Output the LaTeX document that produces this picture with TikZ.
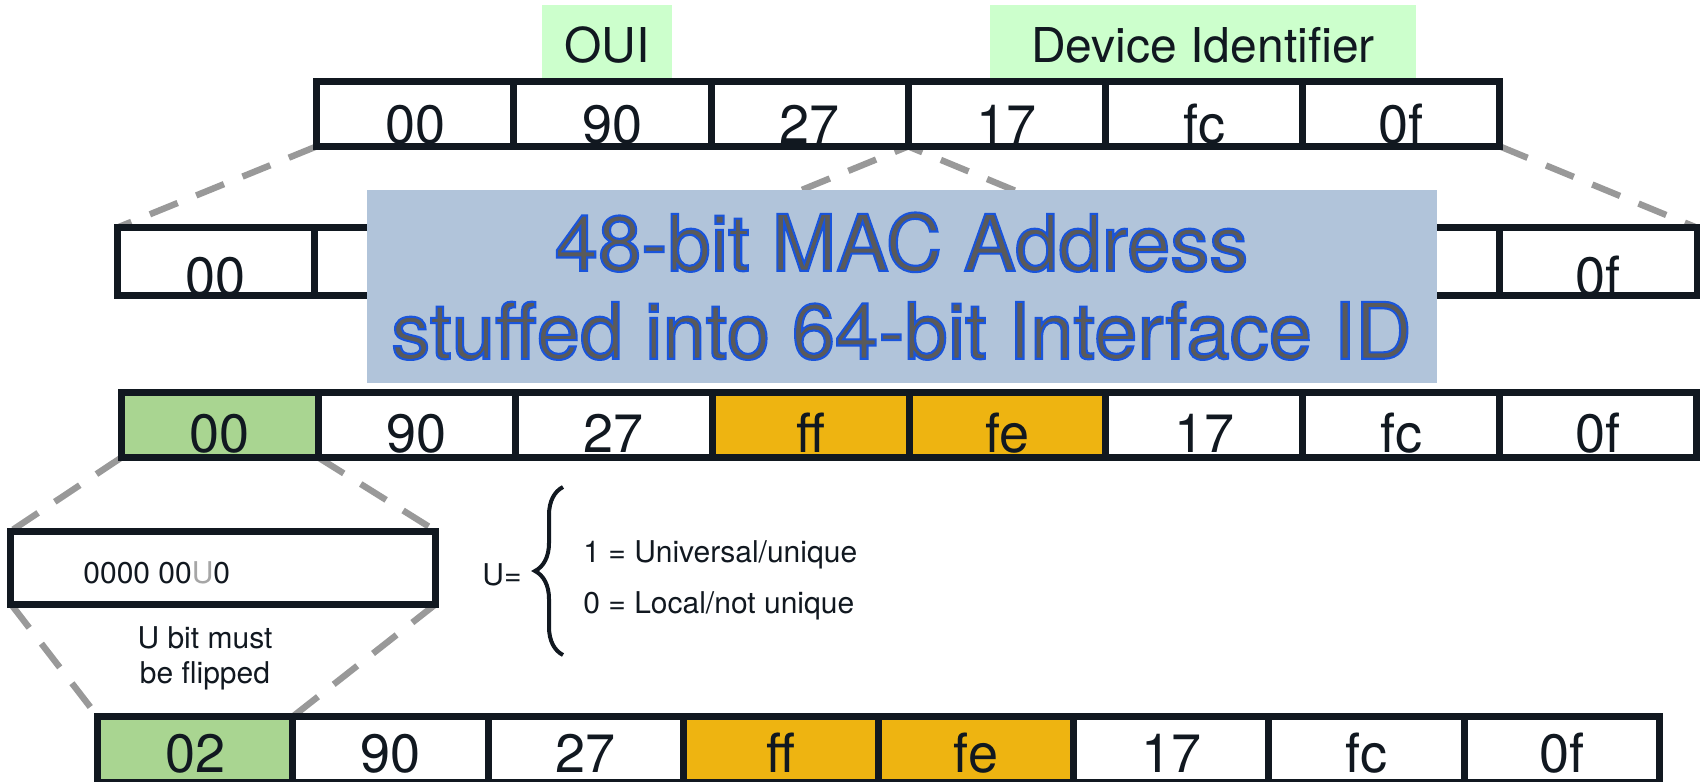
\documentclass[tikz,border=0pt]{standalone}
\usepackage{fontspec}
\setmainfont{TeX Gyre Heros}
\usetikzlibrary{decorations.pathreplacing,backgrounds}

\definecolor{inkblack}{RGB}{17,24,32}
\definecolor{dashgray}{RGB}{153,153,153}
\definecolor{ouigreen}{RGB}{204,255,204}
\definecolor{bitgreen}{RGB}{169,213,145}
\definecolor{fffeorange}{RGB}{238,180,17}
\definecolor{titleblue}{RGB}{177,196,218}
\definecolor{titleink}{RGB}{90,90,90}
\definecolor{ugray}{RGB}{166,166,166}
% gray letters with a blue rim (fill + stroke text mode)
\newcommand\rimtext[1]{\special{pdf:literal direct 2 Tr 1.05 w 0.1 0.33 0.86 RG}#1\special{pdf:literal direct 0 Tr}}

\begin{document}
\begin{tikzpicture}[x=0.5pt, y=-0.5pt, line join=miter,
	cell/.style={draw=inkblack, line width=3.5pt, inner sep=0pt, outer sep=0pt, text=inkblack, font=\fontsize{27}{27}\selectfont},
	tag/.style={fill=ouigreen, inner sep=0pt, text height=28.8pt, text depth=9.15pt, text=inkblack, font=\fontsize{24}{24}\selectfont},
	dashline/.style={draw=dashgray, line width=3.2pt, dash pattern=on 15pt off 10pt},
	small/.style={inner sep=0pt, text=inkblack, font=\fontsize{15}{17.5}\selectfont}]
	
	\useasboundingbox (0,0) rectangle (1700,781);
	
	% OUI / Device Identifier
	\node[tag, minimum width=65pt] (oui) at (607,43.3) {OUI};
	\node[tag, minimum width=213pt] (devid) at (1203,43.3) {Device Identifier};
	
	% 48-bit MAC
	\foreach \t [count=\i] in {00,90,27,17,fc,0f}
		\node[cell, fill=white, minimum width=98.6pt, text height=31pt, text depth=1.5pt] (m\i) at ({316.6+(\i-0.5)*197.2},113.9) {\t};
	
	% MAC split open
	\foreach \t [count=\i] in {00,,,,,,,0f}
		\node[cell, fill=white, minimum width=98.75pt, text height=33.65pt, text depth=0pt] (e\i) at ({117+(\i-0.5)*197.5},261.35) {\t};
	
	% Title box
	\node[fill=titleblue, minimum width=535pt, minimum height=96.5pt, text=titleink, align=center, font=\fontsize{39}{44}\selectfont] (title) at (901.5,286.2)
		{\rimtext{48-bit MAC Address}\\\rimtext{stuffed into 64-bit Interface ID}};
	
	% EUI-64 with ff:fe
	\foreach \t/\c [count=\i] in {00/bitgreen,90/white,27/white,ff/fffeorange,fe/fffeorange,17/white,fc/white,0f/white}
		\node[cell, fill=\c, minimum width=98.45pt, text height=29.75pt, text depth=2.75pt] (f\i) at ({121.4+(\i-0.5)*196.9},425) {\t};
	
	% First byte in bits
	\node[cell, fill=white, minimum width=212.5pt, minimum height=36.5pt] (ubox) at (223.4,567.5) {};
	\node[small, anchor=base west] (bits) at (83,583) {0000 00\textcolor{ugray}{U}0};
	\node[small, align=center, anchor=north] (flip) at (205,626) {U bit must\\be flipped};
	
	% U bit meaning
	\node[small, anchor=base west] (ueq) at (482,585) {U=};
	\draw[inkblack, line width=2pt, decorate, decoration={brace, amplitude=14pt}] (563,655) -- (563,487);
	\node[small, anchor=base west] (uone) at (583,562) {1 = Universal/unique};
	\node[small, anchor=base west] (uzero) at (583,613) {0 = Local/not unique};
	
	% Final interface ID
	\foreach \t/\c [count=\i] in {02/bitgreen,90/white,27/white,ff/fffeorange,fe/fffeorange,17/white,fc/white,0f/white}
		\node[cell, fill=\c, minimum width=97.6pt, text height=27.75pt, text depth=5pt] (g\i) at ({97.6+(\i-0.5)*195.2},749.25) {\t};
	
	% Dashed guides
	\begin{pgfonlayer}{background}
		\draw[dashline] (m1.south west) -- (e1.north west);
		\draw[dashline] (m6.south east) -- (e8.north east);
		\draw[dashline] (e3.north east) -- (m3.south east) -- (e5.north east);
		\draw[dashline] (f1.south west) -- (ubox.north west);
		\draw[dashline] (f1.south east) -- (ubox.north east);
		\draw[dashline] (ubox.south west) -- (g1.north west);
		\draw[dashline] (ubox.south east) -- (g1.north east);
	\end{pgfonlayer}
\end{tikzpicture}
\end{document}
